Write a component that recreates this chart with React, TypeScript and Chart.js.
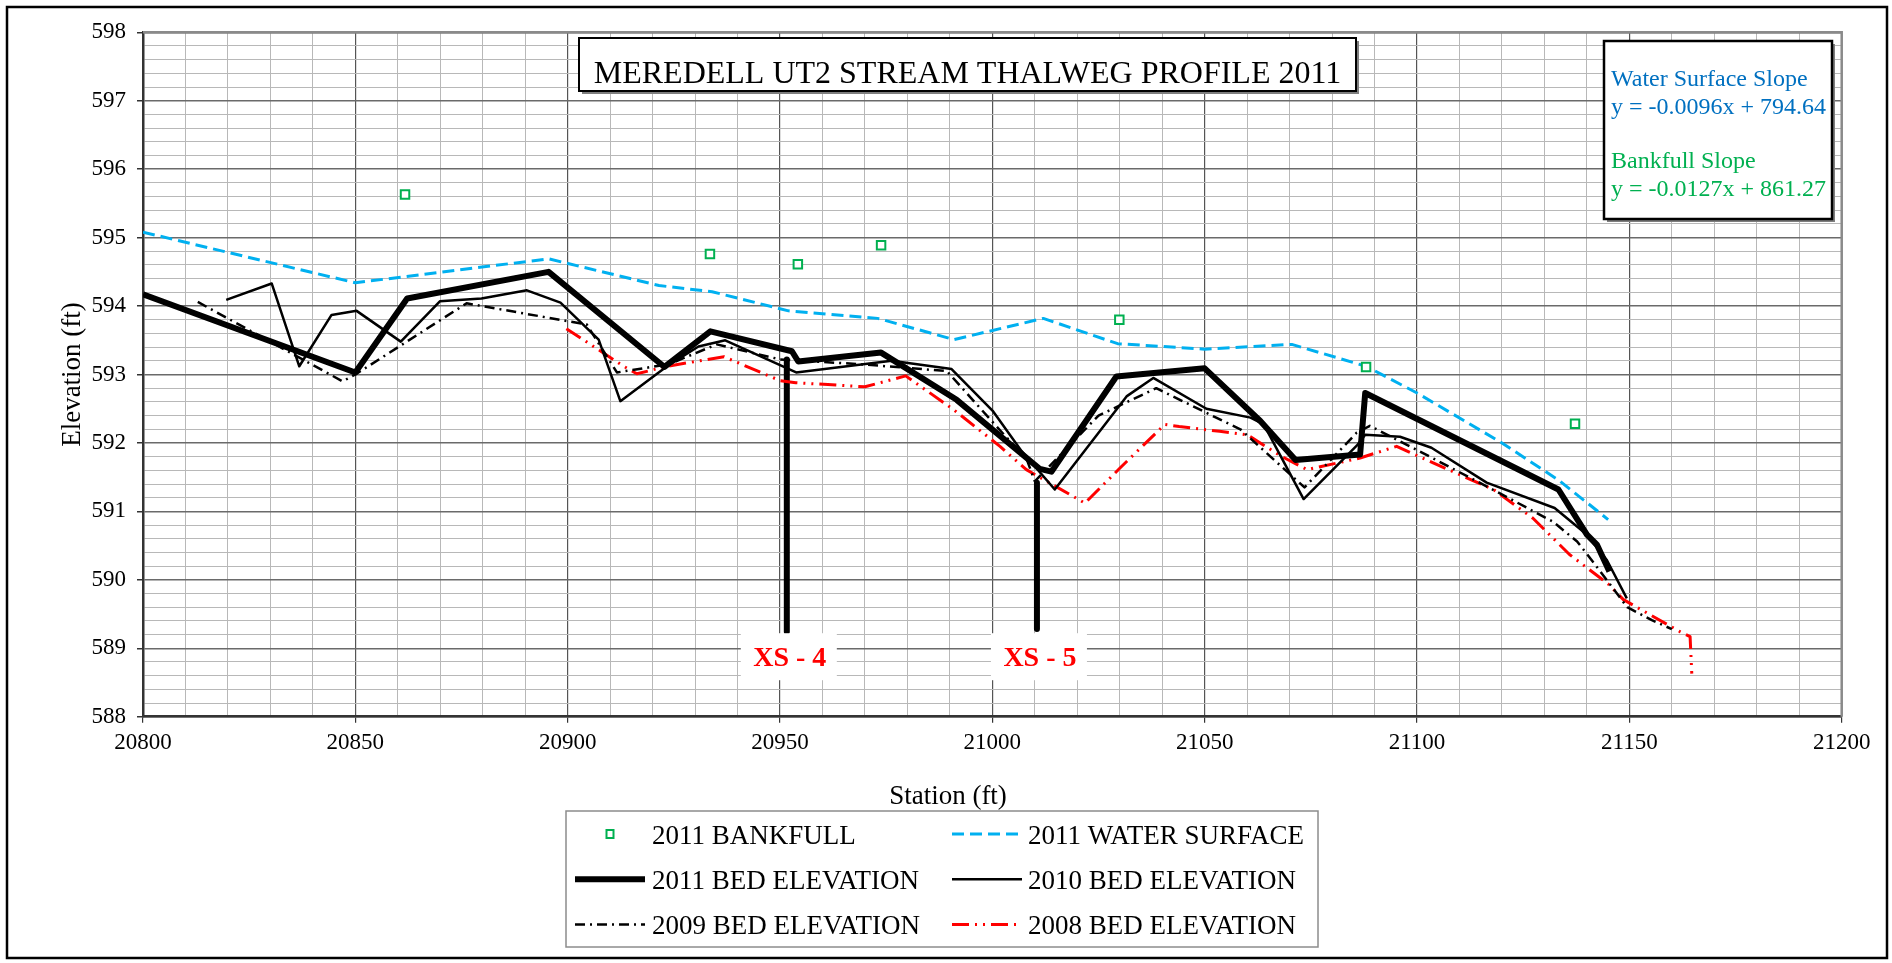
import React, { useEffect, useRef } from 'react';
import { Chart, registerables } from 'chart.js';

Chart.register(...registerables);

const FONT = "'Liberation Serif', 'Times New Roman', Times, serif";

// ---- data (station ft, elevation ft) ----
const bankfullStation = [20861.7, 20933.5, 20954.2, 20973.8, 21029.9, 21088.0, 21137.2];
const bankfullElev = [595.63, 594.76, 594.61, 594.89, 593.80, 593.11, 592.28];

const waterStation = [20800, 20850, 20895.5, 20921.5, 20934, 20952, 20973, 20991, 21012, 21029.5, 21050, 21070.5, 21088, 21100, 21120, 21133.5, 21145];
const waterElev = [595.08, 594.34, 594.69, 594.30, 594.21, 593.93, 593.82, 593.51, 593.82, 593.45, 593.37, 593.44, 593.12, 592.73, 592.0, 591.45, 590.88];

const bed2011Station = [20800, 20850, 20862.2, 20895.5, 20922.8, 20933.6, 20952.8, 20954.3, 20973.8, 20991.6, 21011.2, 21013.9, 21029.2, 21050, 21063.1, 21071.4, 21086.6, 21087.8, 21133.3, 21140, 21142.4, 21145.3];
const bed2011Elev = [594.17, 593.03, 594.11, 594.50, 593.11, 593.63, 593.34, 593.19, 593.32, 592.63, 591.62, 591.58, 592.97, 593.09, 592.32, 591.75, 591.83, 592.73, 591.32, 590.66, 590.51, 590.12];

const bed2010Station = [20819.6, 20830.3, 20836.8, 20844.4, 20850.3, 20860.7, 20869.9, 20879.7, 20890.4, 20898.3, 20907.3, 20912.4, 20923.4, 20930.8, 20937.1, 20953.8, 20976.3, 20990.4, 21000.2, 21006.9, 21014.7, 21031.6, 21037.9, 21050.4, 21060.8, 21063.9, 21073.3, 21085.8, 21087.8, 21096, 21103.4, 21116.4, 21132.4, 21139.6, 21144.7, 21149.4];
const bed2010Elev = [594.09, 594.33, 593.12, 593.87, 593.93, 593.48, 594.07, 594.11, 594.23, 594.05, 593.51, 592.61, 593.12, 593.41, 593.50, 593.03, 593.20, 593.08, 592.46, 591.88, 591.32, 592.68, 592.95, 592.50, 592.37, 592.27, 591.18, 591.96, 592.12, 592.09, 591.93, 591.42, 591.05, 590.68, 590.29, 589.73];

const bed2009Station = [20812.9, 20847, 20850, 20876.2, 20904.5, 20911.6, 20923.8, 20935.1, 20950, 20969, 20989.3, 21001, 21008.1, 21010, 21025, 21038.6, 21052.7, 21058.4, 21073.5, 21085.8, 21088.9, 21103, 21118.7, 21132, 21137.7, 21141.6, 21149.5, 21155.3, 21160];
const bed2009Elev = [594.06, 592.90, 593.00, 594.04, 593.73, 593.03, 593.15, 593.44, 593.22, 593.15, 593.05, 592.24, 591.76, 591.44, 592.40, 592.80, 592.37, 592.20, 591.35, 592.15, 592.25, 591.80, 591.29, 590.85, 590.56, 590.25, 589.60, 589.41, 589.28];

const bed2008Station = [20899.7, 20913.2, 20916.3, 20923.4, 20936.8, 20950, 20953.7, 20970, 20979.6, 20990.8, 21001.8, 21008, 21021.8, 21030, 21040.6, 21044, 21053.5, 21060, 21068.2, 21074.1, 21086.6, 21095.2, 21103.8, 21111, 21118, 21127.3, 21135.9, 21145, 21148.6, 21162, 21164.3, 21164.7];
const bed2008Elev = [593.67, 593.12, 593.01, 593.12, 593.26, 592.91, 592.88, 592.82, 592.98, 592.49, 591.95, 591.61, 591.12, 591.63, 592.27, 592.24, 592.17, 592.12, 591.80, 591.61, 591.78, 591.95, 591.71, 591.51, 591.32, 590.90, 590.37, 589.94, 589.71, 589.24, 589.17, 588.63];

// cross-section markers
const xsStation = [20951.6, 21010.5];
const xsTop = [593.22, 591.42];
const xsBottom = [589.24, 589.28];
const xsLabel = ['XS - 4', 'XS - 5'];
const xsLabelElev = 588.84;

// axes
const stationMin = 20800;
const stationMax = 21200;
const elevMin = 588;
const elevMax = 598;

const seriesLabels = ['2011 BANKFULL', '2011 WATER SURFACE', '2011 BED ELEVATION', '2010 BED ELEVATION', '2009 BED ELEVATION', '2008 BED ELEVATION'];

const titleText = 'MEREDELL UT2 STREAM THALWEG PROFILE 2011';
const slopeLines = [
  { text: 'Water Surface Slope', color: '#0070C0' },
  { text: 'y = -0.0096x + 794.64', color: '#0070C0' },
  { text: 'Bankfull Slope', color: '#00B050' },
  { text: 'y = -0.0127x + 861.27', color: '#00B050' },
];

const pts = (xs: number[], ys: number[]) => xs.map((x, i) => ({ x, y: ys[i] }));
const isMajorY = (v: number) => Math.abs(v - Math.round(v)) < 1e-6;
const isMajorX = (v: number) => Math.abs(v / 50 - Math.round(v / 50)) < 1e-6;

const overlayPlugin = {
  id: 'overlay',
  afterDraw(chart: any) {
    const ctx: CanvasRenderingContext2D = chart.ctx;
    const xS = chart.scales.x;
    const yS = chart.scales.y;
    const ca = chart.chartArea;
    ctx.save();

    // plot-area frame (top & right)
    ctx.strokeStyle = '#8a8a8a';
    ctx.lineWidth = 2.5;
    ctx.beginPath();
    ctx.moveTo(ca.left, ca.top);
    ctx.lineTo(ca.right, ca.top);
    ctx.lineTo(ca.right, ca.bottom);
    ctx.stroke();

    // XS labels
    xsStation.forEach((s, i) => {
      const px = xS.getPixelForValue(s) + 2;
      const py = yS.getPixelForValue(xsLabelElev);
      ctx.fillStyle = '#ffffff';
      ctx.fillRect(px - 48, py - 26, 96, 47);
      ctx.font = `bold 28px ${FONT}`;
      ctx.fillStyle = '#ff0000';
      ctx.textAlign = 'center';
      ctx.textBaseline = 'middle';
      ctx.fillText(xsLabel[i], px + 1, py);
    });

    // Title box
    ctx.fillStyle = '#7f7f7f';
    ctx.fillRect(582, 41, 777, 53);
    ctx.fillStyle = '#ffffff';
    ctx.fillRect(579, 38, 777, 53);
    ctx.strokeStyle = '#000';
    ctx.lineWidth = 2;
    ctx.strokeRect(579, 38, 777, 53);
    ctx.fillStyle = '#000';
    ctx.font = `32px ${FONT}`;
    ctx.textAlign = 'center';
    ctx.textBaseline = 'alphabetic';
    ctx.fillText(titleText, 967.5, 83);

    // slope box
    ctx.fillStyle = '#7f7f7f';
    ctx.fillRect(1607, 44, 228, 178);
    ctx.fillStyle = '#ffffff';
    ctx.fillRect(1604, 41, 228, 178);
    ctx.strokeStyle = '#000';
    ctx.lineWidth = 2.5;
    ctx.strokeRect(1604, 41, 228, 178);
    ctx.font = `24px ${FONT}`;
    ctx.textAlign = 'left';
    const baselines = [86, 114, 168, 196];
    slopeLines.forEach((l, i) => {
      ctx.fillStyle = l.color;
      ctx.fillText(l.text, 1611, baselines[i]);
    });

    // axis titles
    ctx.fillStyle = '#000';
    ctx.font = `27px ${FONT}`;
    ctx.textAlign = 'center';
    ctx.fillText('Station (ft)', 948, 804);
    ctx.save();
    ctx.translate(80, (ca.top + ca.bottom) / 2);
    ctx.rotate(-Math.PI / 2);
    ctx.fillText('Elevation (ft)', 0, 0);
    ctx.restore();

    // legend
    ctx.fillStyle = '#ffffff';
    ctx.fillRect(566, 811, 752, 136);
    ctx.strokeStyle = '#8c8c8c';
    ctx.lineWidth = 1.5;
    ctx.strokeRect(566, 811, 752, 136);
    chart.data.datasets.slice(0, 6).forEach((ds: any, i: number) => {
      const col = i % 2;
      const row = Math.floor(i / 2);
      const y = 834 + row * 45.3;
      const x0 = col === 0 ? 575 : 952;
      const x1 = x0 + 70;
      const tx = col === 0 ? 652 : 1028;
      if (ds.showLine === false) {
        ctx.setLineDash([]);
        ctx.strokeStyle = ds.pointBorderColor;
        ctx.lineWidth = 2;
        ctx.strokeRect((x0 + x1) / 2 - 3.5, y - 4, 7, 8);
      } else {
        ctx.setLineDash(ds.borderDash || []);
        ctx.strokeStyle = ds.borderColor;
        ctx.lineWidth = ds.borderWidth;
        ctx.lineCap = 'butt';
        ctx.beginPath();
        ctx.moveTo(x0, y);
        ctx.lineTo(x1, y);
        ctx.stroke();
        ctx.setLineDash([]);
      }
      ctx.fillStyle = '#000';
      ctx.font = `27px ${FONT}`;
      ctx.textAlign = 'left';
      ctx.textBaseline = 'alphabetic';
      ctx.fillText(ds.label, tx, y + 9.5);
    });

    // outer border
    ctx.strokeStyle = '#000';
    ctx.lineWidth = 2.5;
    ctx.strokeRect(7, 7, 1880, 951);
    ctx.restore();
  },
};

export default function App() {
  const ref = useRef<HTMLCanvasElement>(null);

  useEffect(() => {
    if (!ref.current) return;
    const lineBase = { showLine: true, pointRadius: 0, pointHoverRadius: 0, fill: false, tension: 0, borderJoinStyle: 'round' as const };
    const datasets: any[] = [
      {
        label: seriesLabels[0],
        data: pts(bankfullStation, bankfullElev),
        showLine: false,
        pointStyle: 'rect',
        pointRadius: 6,
        pointBorderWidth: 2,
        pointBorderColor: '#00B050',
        pointBackgroundColor: '#ffffff',
        borderColor: '#00B050',
        backgroundColor: '#ffffff',
      },
      { ...lineBase, label: seriesLabels[1], data: pts(waterStation, waterElev), borderColor: '#00B0F0', borderWidth: 3, borderDash: [12, 6] },
      { ...lineBase, label: seriesLabels[2], data: pts(bed2011Station, bed2011Elev), borderColor: '#000000', borderWidth: 6 },
      { ...lineBase, label: seriesLabels[3], data: pts(bed2010Station, bed2010Elev), borderColor: '#000000', borderWidth: 2.5 },
      { ...lineBase, label: seriesLabels[4], data: pts(bed2009Station, bed2009Elev), borderColor: '#000000', borderWidth: 2.5, borderDash: [10, 5, 2, 5] },
      { ...lineBase, label: seriesLabels[5], data: pts(bed2008Station, bed2008Elev), borderColor: '#FF0000', borderWidth: 3, borderDash: [17, 6, 2, 6, 2, 6] },
      ...xsStation.map((s, i) => ({
        ...lineBase,
        label: xsLabel[i],
        data: [{ x: s, y: xsTop[i] }, { x: s, y: xsBottom[i] }],
        borderColor: '#000000',
        borderWidth: 6,
        borderCapStyle: 'butt',
      })),
    ];

    const chart = new Chart(ref.current, {
      type: 'scatter',
      data: { datasets },
      options: {
        responsive: false,
        animation: false,
        events: [],
        layout: { padding: { left: 0, top: 32.3, right: 50.3, bottom: 206.3 } },
        plugins: { legend: { display: false }, tooltip: { enabled: false }, title: { display: false } },
        scales: {
          x: {
            type: 'linear',
            min: stationMin,
            max: stationMax,
            afterFit: (s: any) => { s.height = 40; },
            ticks: {
              stepSize: 10,
              autoSkip: false,
              maxRotation: 0,
              minRotation: 0,
              padding: 6,
              color: '#000',
              font: { family: FONT, size: 23 },
              callback: (v: any) => (isMajorX(Number(v)) ? String(Math.round(Number(v))) : ''),
            },
            grid: {
              color: (c: any) => (c.tick && isMajorX(c.tick.value) ? '#555555' : '#b8b8b8'),
              lineWidth: (c: any) => (c.tick && isMajorX(c.tick.value) ? 1.2 : 1),
              tickLength: 6,
              tickColor: (c: any) => (c.tick && isMajorX(c.tick.value) ? '#333' : 'rgba(0,0,0,0)'),
            },
            border: { color: '#333333', width: 2.5 },
          },
          y: {
            type: 'linear',
            min: elevMin,
            max: elevMax,
            afterFit: (s: any) => { s.width = 143; },
            ticks: {
              stepSize: 0.2,
              autoSkip: false,
              padding: 11,
              color: '#000',
              font: { family: FONT, size: 23 },
              callback: (v: any) => (isMajorY(Number(v)) ? String(Math.round(Number(v))) : ''),
            },
            grid: {
              color: (c: any) => (c.tick && isMajorY(c.tick.value) ? '#6a6a6a' : '#b8b8b8'),
              lineWidth: (c: any) => (c.tick && isMajorY(c.tick.value) ? 1.5 : 1),
              tickLength: 6,
              tickColor: (c: any) => (c.tick && isMajorY(c.tick.value) ? '#333' : 'rgba(0,0,0,0)'),
            },
            border: { color: '#333333', width: 2.5 },
          },
        },
      },
      plugins: [overlayPlugin],
    } as any);

    return () => chart.destroy();
  }, []);

  return (
    <div style={{ position: 'absolute', left: 0, top: 0, width: 1892, height: 963, background: '#fff' }}>
      <canvas ref={ref} width={1892} height={963} style={{ display: 'block' }} />
    </div>
  );
}
